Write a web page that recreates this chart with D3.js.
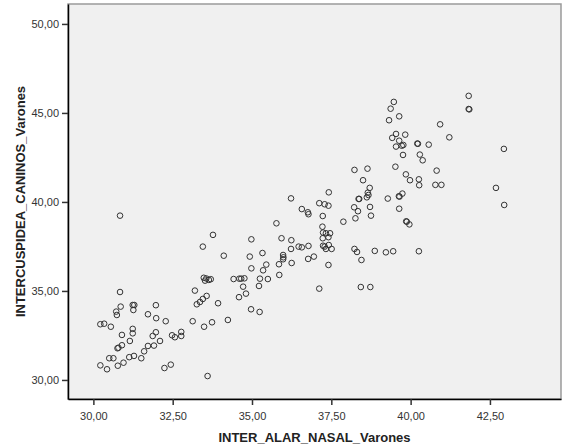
<!DOCTYPE html>
<html>
<head>
<meta charset="utf-8">
<script src="https://cdn.jsdelivr.net/npm/d3@7"></script>
<style>
  body { margin: 0; background: #fff; }
  .tick text { font-family: 'Liberation Sans', Arial, sans-serif; font-size: 11px; fill: #333; }
  .axis-title { font-family: 'Liberation Sans', Arial, sans-serif; font-size: 13px; font-weight: bold; fill: #222; }
</style>
</head>
<body>
<svg id="chart" width="562" height="446"></svg>
<script>
'use strict';

// INTER_ALAR_NASAL_Varones
var interAlar = [
  30.84, 33.77, 33.45, 30.84, 33.48, 33.56, 33.64, 33.70, 33.52, 33.20,
  30.86, 30.72, 30.74, 31.24, 31.29, 31.26, 31.97, 31.72, 31.98, 32.28,
  30.22, 30.34, 30.55, 33.13, 33.49, 33.74, 33.26, 33.36, 33.45, 33.57,
  33.93, 30.90, 31.24, 31.24, 31.15, 30.90, 30.76, 30.79, 30.50, 30.63,
  30.22, 30.43, 30.77, 30.95, 31.13, 31.28, 31.51, 31.60, 31.72, 31.91,
  32.10, 31.87, 31.97, 32.48, 32.57, 32.77, 32.77, 32.24, 32.44, 33.60,
  34.24,
  38.23, 38.64, 38.50, 38.71, 38.65, 38.67, 38.62, 38.36, 38.38, 38.22,
  38.34, 38.72, 38.75, 38.26, 37.42, 36.23, 37.12, 37.29, 37.41, 36.57,
  36.76, 36.78, 37.23, 37.88, 35.77, 37.22, 37.24, 37.33, 37.46, 37.41,
  37.23, 37.24, 37.29, 37.42, 37.51, 37.33, 34.98, 35.93, 36.24, 36.23,
  36.47, 36.57, 36.78, 34.11, 34.93, 35.33, 35.98, 35.99, 35.98, 35.85,
  36.25, 36.77, 36.95, 37.41, 38.23, 38.31, 38.45, 38.87, 34.98, 35.35,
  35.45, 35.25, 35.50, 35.86, 34.42, 34.60, 34.66, 34.76, 34.72, 35.22,
  34.81, 34.59, 37.12, 38.43, 38.73, 34.97, 35.24,
  41.83, 41.83, 41.85, 39.47, 39.37, 39.64, 39.32, 40.93, 41.22, 39.54,
  39.83, 39.42, 39.64, 39.77, 39.54, 39.72, 40.21, 40.23, 40.57, 39.76,
  40.29, 40.38, 42.94, 39.52, 39.85, 39.98, 40.26, 40.27, 40.82, 40.78,
  40.97, 39.28, 39.63, 39.65, 39.74, 39.64, 42.69, 42.95, 39.86, 39.88,
  39.96, 39.22, 39.45, 40.26
];

// INTERCUSPIDEA_CANINOS_Varones
var intercuspidea = [
  39.23, 38.15, 37.49, 34.94, 35.74, 35.70, 35.62, 35.66, 35.58, 35.02,
  34.12, 33.84, 33.65, 34.21, 34.21, 33.93, 34.20, 33.69, 33.47, 33.30,
  33.13, 33.16, 32.99, 33.30, 32.99, 33.24, 34.25, 34.38, 34.55, 34.72,
  34.31, 32.53, 32.87, 32.62, 32.19, 31.95, 31.78, 31.81, 31.22, 31.22,
  30.82, 30.60, 30.80, 30.97, 31.28, 31.35, 31.22, 31.61, 31.91, 31.93,
  32.19, 32.47, 32.68, 32.51, 32.40, 32.47, 32.70, 30.67, 30.86, 30.22,
  33.37,
  41.80, 41.87, 41.22, 40.79, 40.52, 40.39, 40.26, 40.17, 40.17, 39.70,
  39.48, 39.72, 39.23, 39.08, 40.54, 40.20, 39.93, 39.87, 39.79, 39.60,
  39.42, 39.31, 39.21, 38.89, 38.80, 38.61, 38.28, 38.24, 38.24, 38.02,
  37.96, 37.54, 37.49, 37.58, 37.36, 37.36, 37.90, 37.96, 37.85, 37.36,
  37.49, 37.45, 37.53, 36.98, 36.93, 37.13, 37.02, 36.89, 36.78, 36.50,
  36.57, 36.80, 36.93, 36.46, 37.36, 37.19, 36.74, 37.25, 36.27, 36.16,
  36.48, 35.69, 35.67, 35.90, 35.67, 35.69, 35.69, 35.71, 35.24, 35.28,
  34.85, 34.65, 35.13, 35.22, 35.22, 33.97, 33.82,
  45.96, 45.22, 45.20, 45.62, 45.24, 44.81, 44.59, 44.36, 43.63, 43.82,
  43.78, 43.60, 43.44, 43.20, 43.11, 43.16, 43.28, 43.27, 43.22, 42.64,
  42.66, 42.34, 42.98, 41.98, 41.55, 41.22, 41.27, 40.94, 41.76, 40.96,
  40.96, 40.19, 40.32, 40.30, 40.47, 39.62, 40.79, 39.83, 38.91, 38.89,
  38.74, 37.17, 37.23, 37.23
];

var xTicks = [30, 32.5, 35, 37.5, 40, 42.5];
var yTicks = [30, 35, 40, 45, 50];

var svg = d3.select('#chart');
var margin = {top: 4, right: 1, bottom: 47, left: 68};
var width = 562 - margin.left - margin.right;
var height = 446 - margin.top - margin.bottom;

var x = d3.scaleLinear().domain([29.2, 44.74]).range([0, width]);
var y = d3.scaleLinear().domain([28.93, 51.12]).range([height, 0]);

var fmt = function(d){ return d3.format('.2f')(d).replace('.', ','); };

var g = svg.append('g').attr('transform', 'translate(' + margin.left + ',' + margin.top + ')');

// plot background + grey frame (top / right)
g.append('rect')
  .attr('x', 0).attr('y', 0)
  .attr('width', width).attr('height', height)
  .attr('fill', '#f0f0f0')
  .attr('stroke', '#9a9a9a')
  .attr('stroke-width', 1.5);

var xAxis = g.append('g')
  .attr('transform', 'translate(0,' + height + ')')
  .call(d3.axisBottom(x).tickValues(xTicks).tickFormat(fmt).tickSize(6).tickSizeOuter(0));

var yAxis = g.append('g')
  .call(d3.axisLeft(y).tickValues(yTicks).tickFormat(fmt).tickSize(6).tickSizeOuter(0));

[xAxis, yAxis].forEach(function(ax){
  ax.select('.domain').attr('stroke', '#000').attr('stroke-width', 1.5);
  ax.selectAll('.tick line').attr('stroke', '#333').attr('stroke-width', 1.5);
});
xAxis.selectAll('.tick text').attr('dy', '1.05em');

g.append('g')
  .selectAll('circle')
  .data(interAlar)
  .enter()
  .append('circle')
  .attr('cx', function(d){ return x(d); })
  .attr('cy', function(d, i){ return y(intercuspidea[i]); })
  .attr('r', 2.8)
  .attr('fill', 'none')
  .attr('stroke', '#333')
  .attr('stroke-width', 1);

svg.append('text')
  .attr('class', 'axis-title')
  .attr('text-anchor', 'middle')
  .attr('x', margin.left + width / 2)
  .attr('y', 442)
  .text('INTER_ALAR_NASAL_Varones');

svg.append('text')
  .attr('class', 'axis-title')
  .attr('text-anchor', 'middle')
  .attr('transform', 'translate(25,' + (margin.top + height / 2) + ') rotate(-90)')
  .text('INTERCUSPIDEA_CANINOS_Varones');
</script>
</body>
</html>
